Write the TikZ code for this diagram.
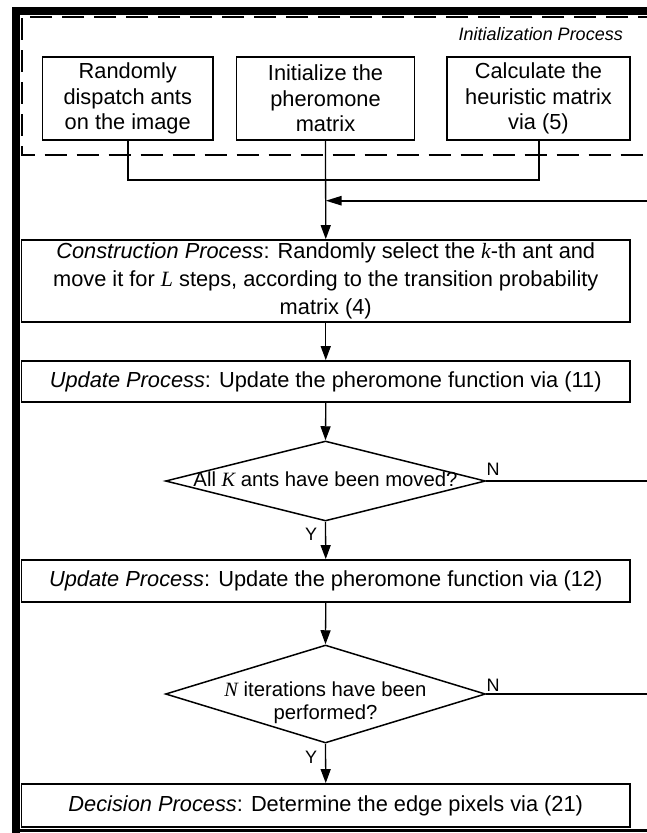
\documentclass[tikz,border=0pt]{standalone}
\usepackage{fontspec}
\setmainfont{Liberation Sans}
\newfontfamily\tnr{Liberation Serif}
\usetikzlibrary{arrows.meta,shapes.geometric}
\newcommand\mvar[1]{{\tnr\itshape #1}}
\begin{document}
\begin{tikzpicture}[x=1pt,y=-1pt,
  box/.style={draw,line width=1.8pt,inner sep=0pt,align=center,
    font=\fontsize{21.8}{25.5}\selectfont},
  dec/.style={draw,diamond,line width=1.5pt,inner sep=0pt},
  dtext/.style={font=\fontsize{20.3}{23}\selectfont,align=center,inner sep=0pt},
  yn/.style={font=\fontsize{18}{18}\selectfont,inner sep=0pt},
  link/.style={line width=1.3pt},
  flow/.style={line width=1.3pt,-{Triangle[length=14pt,width=10pt]}},
  loop/.style={line width=2.4pt},
]
\useasboundingbox (0,0) rectangle (647,833);
\clip (0,0) rectangle (647,833);

% heavy outer frame
\fill (12,7) rectangle (20,833);
\fill (12,7) rectangle (647,15);
\fill (12,828.5) rectangle (647,832);

% dashed area of the initialization stage
\draw[line width=2pt,dash pattern=on 22pt off 10pt]
  (660,16.5) -- (21.5,16.5) -- (21.5,155) -- (660,155);
\node[anchor=base east,inner sep=0pt,font=\fontsize{18}{18}\selectfont\itshape]
  (initlabel) at (623,40) {Initialization Process};

% initialization boxes
\node[box,minimum width=170.5,minimum height=82.7] (dispatch) at (127.75,98.6)
  {Randomly\\dispatch ants\\on the image};
\node[box,minimum width=178,minimum height=82.7] (initpher) at (325.5,98.6)
  {Initialize the\\pheromone\\matrix};
\node[box,minimum width=183,minimum height=82.7] (heur) at (538.5,98.6)
  {Calculate the\\heuristic matrix\\via (5)};

% main column
\node[box,minimum width=608.5,minimum height=81.7,font=\fontsize{21.8}{28}\selectfont]
  (construct) at (325.75,280.9)
  {\textit{Construction Process}: Randomly select the \mvar{k}-th ant and\\
   move it for \mvar{L} steps, according to the transition probability\\
   matrix (4)};
\node[box,minimum width=608.5,minimum height=41] (update1) at (325.75,381.5)
  {\textit{Update Process}: Update the pheromone function via (11)};
\node[dec,minimum width=320,minimum height=80] (allmoved) at (325.5,481) {};
\node[dtext] (allmovedtxt) at (325.5,479) {All \mvar{K} ants have been moved?};
\node[box,minimum width=608.5,minimum height=42] (update2) at (325.75,581)
  {\textit{Update Process}: Update the pheromone function via (12)};
\node[dec,minimum width=320,minimum height=98] (iters) at (325.5,694) {};
\node[dtext] (iterstxt) at (325.5,703) {\mvar{N} iterations have been\\performed?};
\node[box,minimum width=608.5,minimum height=43] (decide) at (325.75,805.5)
  {\textit{Decision Process}: Determine the edge pixels via (21)};

% branch labels
\node[yn] (y1) at (311,534) {Y};
\node[yn] (n1) at (493,469.5) {N};
\node[yn] (y2) at (311,757.5) {Y};
\node[yn] (n2) at (493,685) {N};

% merging the initialization results
\draw[loop,line width=2pt] (dispatch.south) -- ++(0,39.5) -| (heur.south);
\draw[flow] (initpher.south) -- (construct.north);

% return path entering from the right
\coordinate (fbin) at (660,200.7);
\draw[loop,-{Triangle[length=16pt,width=9pt]}] (fbin) -- (fbin -| initpher.south);
\coordinate (fbout) at (660,0);
\draw[line width=1.5pt] (allmoved.east) -- (allmoved.east -| fbout);
\draw[line width=1.5pt] (iters.east) -- (iters.east -| fbout);

% flow down the column
\draw[flow] (construct.south) -- (update1.north);
\draw[flow] (update1.south) -- (allmoved.north);
\draw[flow] (allmoved.south) -- (update2.north);
\draw[flow] (update2.south) -- (iters.north);
\draw[flow] (iters.south) -- (decide.north);
\end{tikzpicture}
\end{document}
